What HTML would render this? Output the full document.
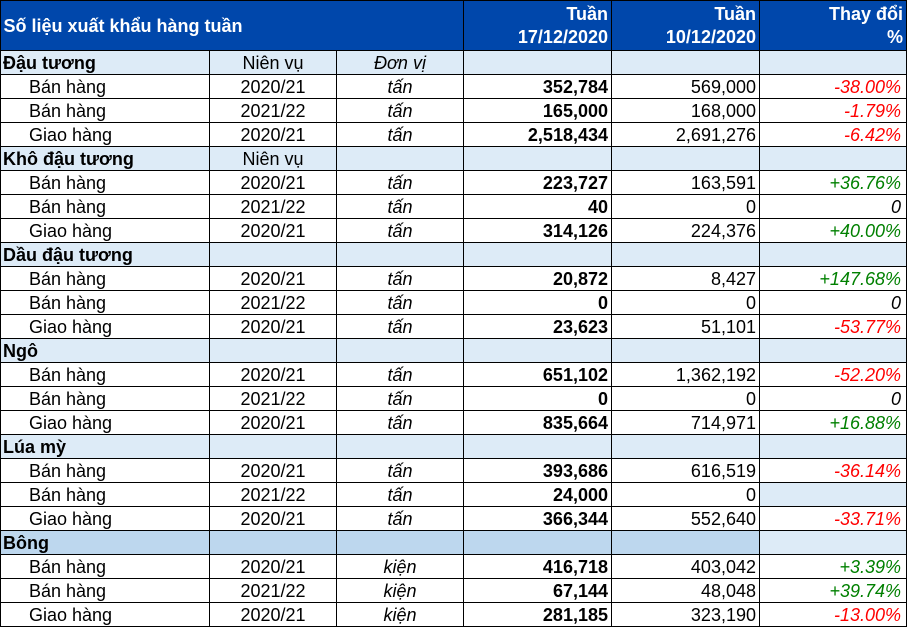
<!DOCTYPE html>
<html>
<head>
<meta charset="utf-8">
<style>
html,body{margin:0;padding:0;background:#fff;}
#w{position:relative;width:908px;height:627px;overflow:hidden;background:#fff;
font-family:"Liberation Sans",Arial,sans-serif;font-size:18px;color:#000;}
.bg{position:absolute;left:0;width:907px;height:24px;}
.lb{background:#DDEBF7;}
.hl{position:absolute;left:0;top:50px;width:907px;height:577px;
background:repeating-linear-gradient(to bottom,#000 0px,#000 1px,transparent 1px,transparent 24px);}
.vl{position:absolute;width:1px;background:#000;}
.r{position:absolute;left:0;width:907px;height:23px;}
.r div{position:absolute;top:0;height:23px;line-height:24px;white-space:nowrap;box-sizing:border-box;}
.a{left:1px;width:208px;padding-left:28px;}
.g{left:1px;width:208px;padding-left:2px;font-weight:bold;}
.b{left:210px;width:126px;text-align:center;}
.c{left:337px;width:126px;text-align:center;font-style:italic;}
.d{left:464px;width:147px;text-align:right;padding-right:3px;font-weight:bold;}
.e{left:612px;width:147px;text-align:right;padding-right:3px;}
.f{left:760px;width:146px;text-align:right;padding-right:5px;font-style:italic;}
.red{color:#FF0000;}
.grn{color:#008000;}
.hd{position:absolute;color:#fff;font-weight:bold;white-space:nowrap;box-sizing:border-box;}
</style>
</head>
<body>
<div id="w">
<!-- header -->
<div style="position:absolute;left:0;top:0;width:907px;height:50px;background:#0047AB;"></div>
<div class="hd" style="left:1px;top:1px;height:49px;line-height:50px;padding-left:2.5px;">Số liệu xuất khẩu hàng tuần</div>
<div class="hd" style="left:464px;top:2.7px;width:147px;line-height:23.5px;text-align:right;padding-right:3px;">Tuần<br>17/12/2020</div>
<div class="hd" style="left:612px;top:2.7px;width:147px;line-height:23.5px;text-align:right;padding-right:3px;">Tuần<br>10/12/2020</div>
<div class="hd" style="left:760px;top:2.7px;width:146px;line-height:23.5px;text-align:right;padding-right:3px;">Thay đổi<br>%</div>

<!-- backgrounds -->
<div class="bg lb" style="top:50px;"></div>
<div class="bg lb" style="top:146px;"></div>
<div class="bg lb" style="top:242px;"></div>
<div class="bg lb" style="top:338px;"></div>
<div class="bg lb" style="top:434px;"></div>
<div style="position:absolute;left:759px;top:482px;width:148px;height:24px;background:#DDEBF7;"></div>
<div class="bg" style="top:530px;background:#BDD7EE;width:760px;"></div>
<div style="position:absolute;left:759px;top:530px;width:148px;height:24px;background:#DDEBF7;"></div>

<!-- rows -->
<div class="r" style="top:51px;"><div class="g">Đậu tương</div><div class="b">Niên vụ</div><div class="c">Đơn vị</div></div>
<div class="r" style="top:75px;"><div class="a">Bán hàng</div><div class="b">2020/21</div><div class="c">tấn</div><div class="d">352,784</div><div class="e">569,000</div><div class="f red">-38.00%</div></div>
<div class="r" style="top:99px;"><div class="a">Bán hàng</div><div class="b">2021/22</div><div class="c">tấn</div><div class="d">165,000</div><div class="e">168,000</div><div class="f red">-1.79%</div></div>
<div class="r" style="top:123px;"><div class="a">Giao hàng</div><div class="b">2020/21</div><div class="c">tấn</div><div class="d">2,518,434</div><div class="e">2,691,276</div><div class="f red">-6.42%</div></div>

<div class="r" style="top:147px;"><div class="g">Khô đậu tương</div><div class="b">Niên vụ</div></div>
<div class="r" style="top:171px;"><div class="a">Bán hàng</div><div class="b">2020/21</div><div class="c">tấn</div><div class="d">223,727</div><div class="e">163,591</div><div class="f grn">+36.76%</div></div>
<div class="r" style="top:195px;"><div class="a">Bán hàng</div><div class="b">2021/22</div><div class="c">tấn</div><div class="d">40</div><div class="e">0</div><div class="f">0</div></div>
<div class="r" style="top:219px;"><div class="a">Giao hàng</div><div class="b">2020/21</div><div class="c">tấn</div><div class="d">314,126</div><div class="e">224,376</div><div class="f grn">+40.00%</div></div>

<div class="r" style="top:243px;"><div class="g">Dầu đậu tương</div></div>
<div class="r" style="top:267px;"><div class="a">Bán hàng</div><div class="b">2020/21</div><div class="c">tấn</div><div class="d">20,872</div><div class="e">8,427</div><div class="f grn">+147.68%</div></div>
<div class="r" style="top:291px;"><div class="a">Bán hàng</div><div class="b">2021/22</div><div class="c">tấn</div><div class="d">0</div><div class="e">0</div><div class="f">0</div></div>
<div class="r" style="top:315px;"><div class="a">Giao hàng</div><div class="b">2020/21</div><div class="c">tấn</div><div class="d">23,623</div><div class="e">51,101</div><div class="f red">-53.77%</div></div>

<div class="r" style="top:339px;"><div class="g">Ngô</div></div>
<div class="r" style="top:363px;"><div class="a">Bán hàng</div><div class="b">2020/21</div><div class="c">tấn</div><div class="d">651,102</div><div class="e">1,362,192</div><div class="f red">-52.20%</div></div>
<div class="r" style="top:387px;"><div class="a">Bán hàng</div><div class="b">2021/22</div><div class="c">tấn</div><div class="d">0</div><div class="e">0</div><div class="f">0</div></div>
<div class="r" style="top:411px;"><div class="a">Giao hàng</div><div class="b">2020/21</div><div class="c">tấn</div><div class="d">835,664</div><div class="e">714,971</div><div class="f grn">+16.88%</div></div>

<div class="r" style="top:435px;"><div class="g">Lúa mỳ</div></div>
<div class="r" style="top:459px;"><div class="a">Bán hàng</div><div class="b">2020/21</div><div class="c">tấn</div><div class="d">393,686</div><div class="e">616,519</div><div class="f red">-36.14%</div></div>
<div class="r" style="top:483px;"><div class="a">Bán hàng</div><div class="b">2021/22</div><div class="c">tấn</div><div class="d">24,000</div><div class="e">0</div></div>
<div class="r" style="top:507px;"><div class="a">Giao hàng</div><div class="b">2020/21</div><div class="c">tấn</div><div class="d">366,344</div><div class="e">552,640</div><div class="f red">-33.71%</div></div>

<div class="r" style="top:531px;"><div class="g">Bông</div></div>
<div class="r" style="top:555px;"><div class="a">Bán hàng</div><div class="b">2020/21</div><div class="c">kiện</div><div class="d">416,718</div><div class="e">403,042</div><div class="f grn">+3.39%</div></div>
<div class="r" style="top:579px;"><div class="a">Bán hàng</div><div class="b">2021/22</div><div class="c">kiện</div><div class="d">67,144</div><div class="e">48,048</div><div class="f grn">+39.74%</div></div>
<div class="r" style="top:603px;"><div class="a">Giao hàng</div><div class="b">2020/21</div><div class="c">kiện</div><div class="d">281,185</div><div class="e">323,190</div><div class="f red">-13.00%</div></div>

<!-- grid lines -->
<div style="position:absolute;left:0;top:0;width:907px;height:1px;background:#000;"></div>
<div class="hl"></div>
<div class="vl" style="left:0;top:0;height:627px;"></div>
<div class="vl" style="left:209px;top:50px;height:577px;"></div>
<div class="vl" style="left:336px;top:50px;height:577px;"></div>
<div class="vl" style="left:463px;top:0;height:627px;"></div>
<div class="vl" style="left:611px;top:0;height:627px;"></div>
<div class="vl" style="left:759px;top:0;height:627px;"></div>
<div class="vl" style="left:906px;top:0;height:627px;"></div>
</div>
</body>
</html>
